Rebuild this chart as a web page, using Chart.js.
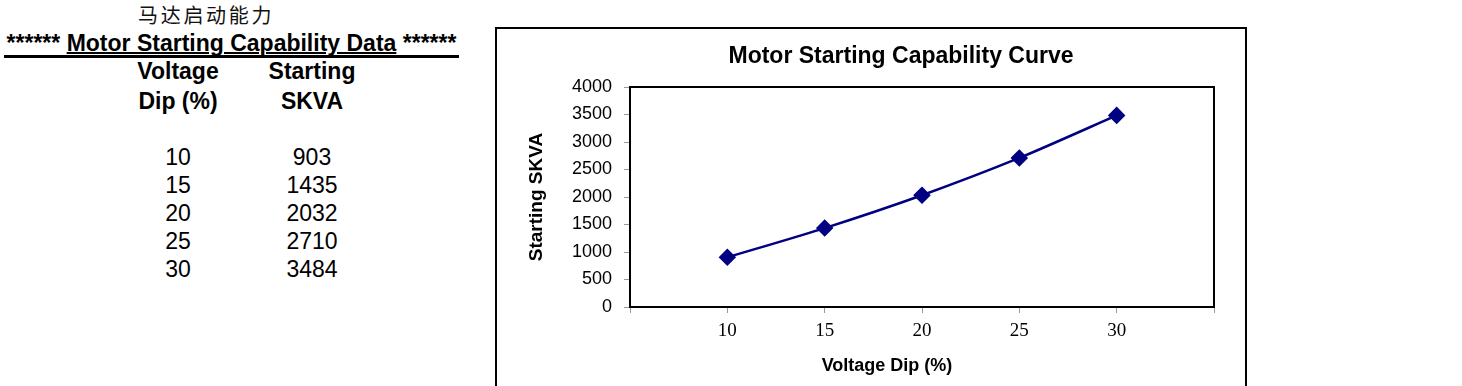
<!DOCTYPE html>
<html>
<head>
<meta charset="utf-8">
<script src="https://cdn.jsdelivr.net/npm/chart.js@4.4.0/dist/chart.umd.min.js"></script>
<style>
  body { margin: 0; background: #fff; width: 1462px; height: 386px; overflow: hidden; position: relative; font-family: "Liberation Sans", Arial, sans-serif; }
  #cnTitle { position: absolute; left: 138px; top: 2px; font-family: "Noto Sans CJK SC", sans-serif; font-size: 20px; letter-spacing: 2.7px; line-height: 26px; color: #111; }
  #dataTitle { position: absolute; left: 4px; top: 31px; width: 455px; font-weight: bold; font-size: 23px; line-height: 24px; border-bottom: 3px solid #000; white-space: nowrap; text-align: center; color: #000; }
  #dataTitle u { text-decoration-thickness: 2px; }
  .col { position: absolute; width: 120px; text-align: center; font-size: 23px; color: #000; }
  .hdr { font-weight: bold; line-height: 30px; }
  .val { line-height: 28px; }
  #frame { position: absolute; left: 495px; top: 27px; width: 748px; height: 370px; border: 2px solid #000; }
</style>
</head>
<body>
<div id="cnTitle">马达启动能力</div>
<div id="dataTitle">****** <u>Motor Starting Capability Data</u> ******</div>
<div class="col hdr" style="left:118px; top:56px;">Voltage<br>Dip (%)</div>
<div class="col hdr" style="left:252px; top:56px;">Starting<br>SKVA</div>
<div class="col val" id="colDip" style="left:118px; top:143px;"></div>
<div class="col val" id="colSkva" style="left:252px; top:143px;"></div>
<div id="frame"><canvas id="chart" width="748" height="370"></canvas></div>
<script>
const voltageDip = [10, 15, 20, 25, 30];
const startingSkva = [903, 1435, 2032, 2710, 3484];
const xTicks = [10, 15, 20, 25, 30];
const chartTitle = 'Motor Starting Capability Curve';
const xTitle = 'Voltage Dip (%)';
const yTitle = 'Starting SKVA';

document.getElementById('colDip').innerHTML = voltageDip.join('<br>');
document.getElementById('colSkva').innerHTML = startingSkva.join('<br>');

// plot area frame plus the two titles, placed like the Excel original
const extras = {
  id: 'extras',
  afterDraw(chart) {
    const { ctx, chartArea: a } = chart;
    ctx.save();
    ctx.strokeStyle = '#000';
    ctx.lineWidth = 2;
    ctx.strokeRect(a.left, a.top, a.right - a.left, a.bottom - a.top);
    ctx.fillStyle = '#000';
    ctx.textAlign = 'center';
    ctx.textBaseline = 'middle';
    ctx.font = 'bold 23px "Liberation Sans"';
    ctx.fillText(chartTitle, 404, 28);
    ctx.font = 'bold 18px "Liberation Sans"';
    ctx.fillText(xTitle, 390, 337);
    ctx.restore();
  }
};

const ctx = document.getElementById('chart').getContext('2d');
new Chart(ctx, {
  type: 'line',
  data: {
    datasets: [{
      data: voltageDip.map((v, i) => ({ x: v, y: startingSkva[i] })),
      borderColor: '#000080',
      backgroundColor: '#000080',
      borderWidth: 2.5,
      pointStyle: 'rectRot',
      pointRadius: 7,
      pointHoverRadius: 7,
      tension: 0.25
    }]
  },
  options: {
    responsive: false,
    animation: false,
    layout: { padding: { left: 28, right: 31, top: 58, bottom: 42 } },
    plugins: {
      legend: { display: false },
      tooltip: { enabled: false }
    },
    scales: {
      x: {
        type: 'linear',
        min: 5,
        max: 35,
        afterFit: s => { s.height = 50; },
        afterBuildTicks: s => { s.ticks = [5].concat(xTicks, [35]).map(v => ({ value: v })); },
        ticks: {
          color: '#000',
          padding: 7,
          font: { family: 'Liberation Serif', size: 19 },
          callback: v => xTicks.includes(v) ? v : ''
        },
        grid: { drawOnChartArea: false, tickLength: 6, tickColor: '#999' },
        border: { color: '#000', width: 2 }
      },
      y: {
        min: 0,
        max: 4000,
        afterFit: s => { s.width = 105; },
        ticks: {
          stepSize: 500,
          color: '#000',
          padding: 12,
          font: { family: 'Liberation Sans', size: 18 },
          callback: v => String(v)
        },
        grid: { drawOnChartArea: false, tickLength: 6, tickColor: '#999' },
        border: { color: '#000', width: 2 },
        title: {
          display: true,
          text: yTitle,
          color: '#000',
          font: { family: 'Liberation Sans', size: 19, weight: 'bold' },
          padding: { top: 0, bottom: 0 }
        }
      }
    }
  },
  plugins: [extras]
});
</script>
</body>
</html>
